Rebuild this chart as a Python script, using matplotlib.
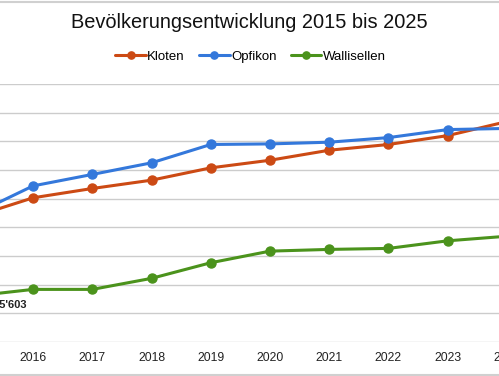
import matplotlib
matplotlib.use('Agg')
import matplotlib.pyplot as plt
from matplotlib.lines import Line2D

# Daten
jahre = [2015, 2016, 2017, 2018, 2019, 2020, 2021, 2022, 2023, 2024]
kloten = [18370, 19030, 19355, 19645, 20075, 20340, 20690, 20890, 21200, 21690]
opfikon = [18450, 19445, 19845, 20250, 20890, 20910, 20970, 21130, 21410, 21450]
wallisellen = [15603, 15835, 15835, 16220, 16765, 17170, 17230, 17265, 17530, 17690]
yticks = [14000, 15000, 16000, 17000, 18000, 19000, 20000, 21000, 22000, 23000]

farben = {'Kloten': '#cc4a14', 'Opfikon': '#3478db', 'Wallisellen': '#4b931c'}

plt.rcParams['font.family'] = ['Liberation Sans', 'DejaVu Sans']

W, H = 499, 376
fig = plt.figure(figsize=(W / 100, H / 100), dpi=100)

# Achse ragt links und rechts aus dem Bild (Ausschnitt)
px_jahr = 59.24
x2015 = -26.2
ax_l, ax_r = -60, 560
ax = fig.add_axes([ax_l / W, (H - 342) / H, (ax_r - ax_l) / W, 258 / H])
ax.set_xlim(2015 + (ax_l - x2015) / px_jahr, 2015 + (ax_r - x2015) / px_jahr)
ax.set_ylim(14000, 23000)

for name, werte in [('Kloten', kloten), ('Opfikon', opfikon), ('Wallisellen', wallisellen)]:
    ax.plot(jahre, werte, color=farben[name], lw=2.2, marker='o', ms=6.5,
            label=name, solid_capstyle='round', zorder=3)

ax.set_yticks(yticks)
ax.set_yticklabels([])
ax.set_xticks(jahre)
ax.set_xticklabels([str(j) for j in jahre], fontsize=8.8, color='#222222')
ax.tick_params(length=0, pad=7.5)
ax.grid(axis='y', color='#cccccc', lw=1)
ax.set_axisbelow(True)
for s in ax.spines.values():
    s.set_visible(False)

# Datenbeschriftung erster Punkt
ax.annotate("15'603", xy=(jahre[0], wallisellen[0]), xytext=(38, -6.5),
            textcoords='offset points', ha='right', va='center',
            fontsize=8, fontweight='bold', color='#222222', annotation_clip=False)

fig.text(249 / W, 1 - 23 / H, 'Bevölkerungsentwicklung 2015 bis 2025',
         ha='center', va='center', fontsize=14.4, color='#111111')

fig.legend(loc='center', bbox_to_anchor=(250.5 / W, 1 - 57 / H), ncol=3,
           frameon=False, fontsize=9.5, handlelength=2.3, handletextpad=0.1,
           columnspacing=1.1, markerscale=0.8)

# Rahmenlinien oben und unten
fig.add_artist(Line2D([0, 1], [1 - 1.5 / H] * 2, transform=fig.transFigure, color='#d0d0d0', lw=1.5))
fig.add_artist(Line2D([0, 1], [1.5 / H] * 2, transform=fig.transFigure, color='#d0d0d0', lw=1.5))

fig.savefig('out.png', dpi=100)
